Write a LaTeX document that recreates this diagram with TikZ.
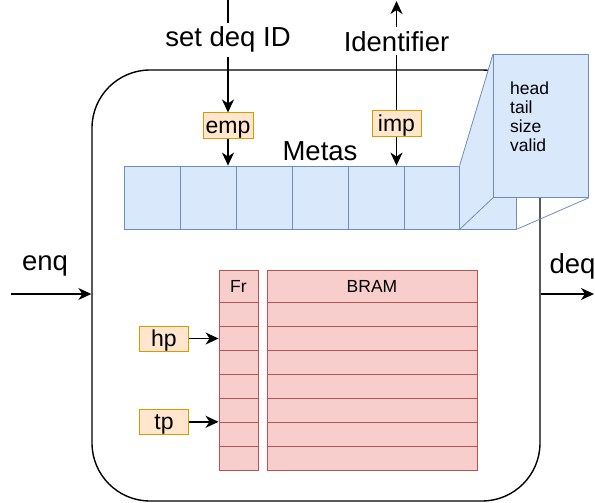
\documentclass[tikz,border=0pt]{standalone}
\usepackage{fontspec}
\setmainfont{Liberation Sans}
\usetikzlibrary{arrows.meta}
\definecolor{metafill}{HTML}{DAE8FC}
\definecolor{metaline}{HTML}{6C8EBF}
\definecolor{ramfill}{HTML}{F8CECC}
\definecolor{ramline}{HTML}{B85450}
\definecolor{ptrfill}{HTML}{FFE6CC}
\definecolor{ptrline}{HTML}{D79B00}
\begin{document}
\begin{tikzpicture}[x=1pt,y=-1pt,
  arr/.style={line width=1.4pt, -{Stealth[length=13pt,width=12pt,inset=4pt]}},
  big/.style={font=\fontsize{27.5}{31}\selectfont},
  ptr/.style={draw=ptrline, fill=ptrfill, line width=1pt, inner sep=0pt,
    minimum width=49pt, minimum height=25pt, text height=16pt, text depth=0pt,
    font=\fontsize{23}{26}\selectfont},
  meta/.style={draw=metaline, fill=metafill, line width=0.8pt,
    minimum width=56pt, minimum height=63pt, inner sep=0pt},
  ram/.style={draw=ramline, fill=ramfill, line width=0.9pt, inner sep=0pt,
    font=\fontsize{17.5}{20}\selectfont},
  zoomline/.style={metaline, line width=0.8pt},
]
\useasboundingbox (0,0) rectangle (595,503);

% queue block outline
\node[draw, line width=1.4pt, rounded corners=58pt, minimum width=448pt,
      minimum height=431pt, inner sep=0pt] (box) at (316,285.5) {};

% metadata table
\foreach \i in {1,...,7}
  \node[meta] (m\i) at ({96+56*\i},197.5) {};
\node[big] (metaslbl) at (320,151.5) {Metas};

% zoomed-in view of one metadata entry
\coordinate (infoNW) at (493,54);
\coordinate (infoSE) at (588,197);
\fill[metafill] (m7.north west) -- (infoNW) -- (infoNW -| infoSE) -- (infoSE)
  -- (m7.east |- infoSE) -- (m7.south east) -- (m7.south west) -- cycle;
\node[draw=metaline, fill=metafill, line width=0.8pt, inner sep=0pt,
      minimum width=95pt, minimum height=143pt, anchor=north west] (info) at (infoNW) {};
\draw[zoomline] (m7.north west) -- (info.north west);
\draw[zoomline] (m7.south west) -- (info.south west);
\draw[zoomline] (m7.south east) -- (info.south east);
\draw[zoomline] (m7.south east) -- (m7.east |- info.south);
\draw[zoomline] (m7.north west) -- (m7.south west) -- (m7.south east);
\node[anchor=north west, align=left, inner sep=0pt,
      font=\fontsize{17.5}{18.8}\selectfont] (infotxt)
      at ([shift={(17,28)}]info.north west) {head\\tail\\size\\valid};

% free-list column
\node[ram, minimum width=39pt, minimum height=32pt] (frh) at (238.5,286) {Fr};
\foreach \i in {1,...,7}
  \node[ram, minimum width=39pt, minimum height=24pt] (fr\i) at (238.5,{290+24*\i}) {};

% data memory
\node[ram, minimum width=210pt, minimum height=32pt] (bh) at (372,286) {BRAM};
\foreach \i in {1,...,7}
  \node[ram, minimum width=210pt, minimum height=24pt] (b\i) at (372,{290+24*\i}) {};

% pointers
\node[ptr] (hp) at (164,338.5) {hp};
\node[ptr] (tp) at (164,421.8) {tp};
\draw[arr] (hp.east) -- (hp.east -| fr1.west);
\draw[arr] (tp.east) -- (tp.east -| fr1.west);

\node[ptr, minimum width=50pt] (emp) at (228,125.5) {emp};
\node[ptr] (imp) at (396.5,123.5) {imp};
\draw[arr] (emp.south) -- (emp.south |- m2.north);
\draw[arr] (imp.south) -- (imp.south |- m5.north);

% control inputs and outputs
\coordinate (sdtop) at (228,0);
\draw[arr] (sdtop) -- node[pos=0.354, fill=white, inner xsep=2pt, inner ysep=4pt, big] (sdlbl) {set deq ID} (emp.north);
\coordinate (idtop) at (396.5,1);
\draw[arr] (imp.north) -- node[pos=0.633, fill=white, inner xsep=2pt, inner ysep=4pt, big] (idlbl) {Identifier} (idtop);

\coordinate (enqsrc) at (11,294);
\draw[arr] (enqsrc) -- (enqsrc -| box.west);
\node[big] (enqlbl) at (45,266) {enq};

\coordinate (deqdst) at (594,294);
\draw[arr] (deqdst -| box.east) -- (deqdst);
\node[big, anchor=west] (deqlbl) at (546,266) {deq};
\end{tikzpicture}
\end{document}
